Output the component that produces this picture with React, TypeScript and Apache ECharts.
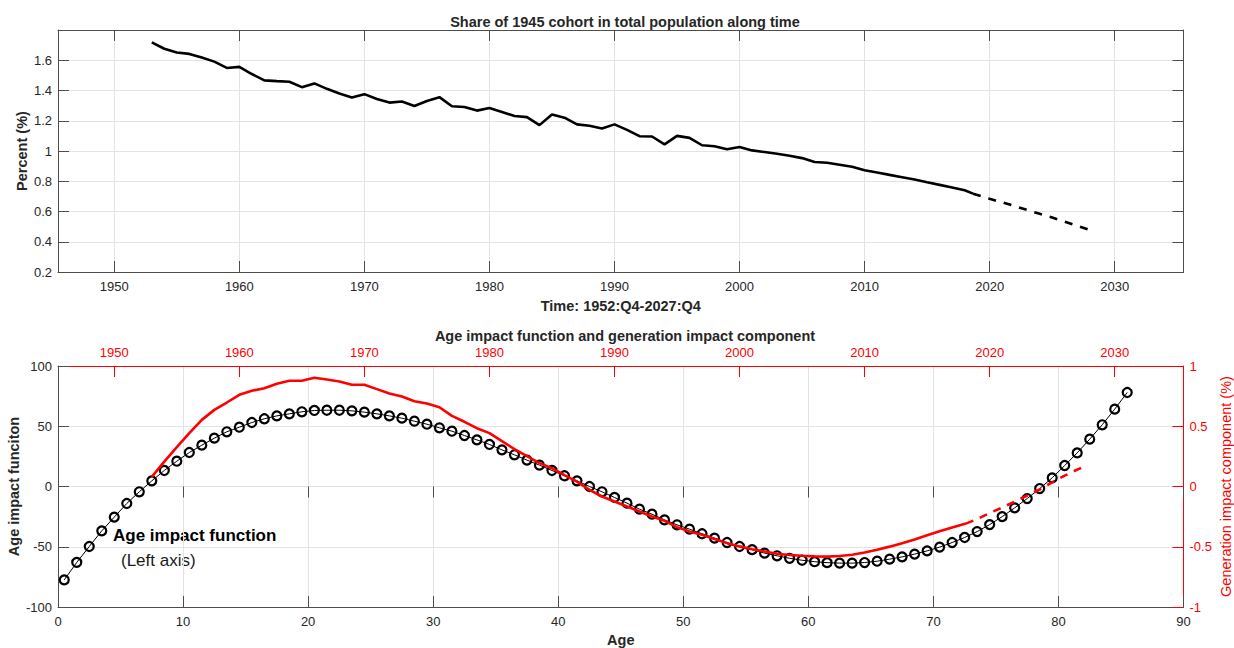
import React, { useEffect, useRef } from "react";
import * as echarts from "echarts";

// Share of the 1945 cohort in total population (%), observed part
const shareYears = [
  1953, 1954, 1955, 1956, 1957, 1958, 1959, 1960, 1961, 1962, 1963, 1964, 1965, 1966, 1967, 1968,
  1969, 1970, 1971, 1972, 1973, 1974, 1975, 1976, 1977, 1978, 1979, 1980, 1981, 1982, 1983, 1984,
  1985, 1986, 1987, 1988, 1989, 1990, 1991, 1992, 1993, 1994, 1995, 1996, 1997, 1998, 1999, 2000,
  2001, 2002, 2003, 2004, 2005, 2006, 2007, 2008, 2009, 2010, 2011, 2012, 2013, 2014, 2015, 2016,
  2017, 2018, 2018.67,
];
const shareValues = [
  1.718, 1.676, 1.651, 1.642, 1.618, 1.591, 1.549, 1.556, 1.509, 1.467, 1.462, 1.458, 1.422, 1.447, 1.411, 1.38,
  1.353, 1.376, 1.344, 1.32, 1.327, 1.298, 1.331, 1.356, 1.296, 1.291, 1.267, 1.284, 1.258, 1.231, 1.224, 1.171,
  1.242, 1.22, 1.176, 1.167, 1.149, 1.176, 1.14, 1.098, 1.096, 1.044, 1.1, 1.087, 1.038, 1.031, 1.011, 1.027,
  1.004, 0.993, 0.982, 0.969, 0.953, 0.927, 0.922, 0.909, 0.896, 0.873, 0.858, 0.842, 0.827, 0.811, 0.793, 0.776,
  0.758, 0.74, 0.718,
];

// Projected share (dashed)
const shareProjYears = [2018.67, 2020, 2021, 2022, 2023, 2024, 2025, 2026, 2027, 2028];
const shareProjValues = [0.718, 0.684, 0.66, 0.636, 0.61, 0.585, 0.56, 0.533, 0.506, 0.478];

// Age impact function (left axis)
const ages = [
  0.5, 1.5, 2.5, 3.5, 4.5, 5.5, 6.5, 7.5, 8.5, 9.5, 10.5, 11.5, 12.5, 13.5, 14.5, 15.5, 16.5, 17.5,
  18.5, 19.5, 20.5, 21.5, 22.5, 23.5, 24.5, 25.5, 26.5, 27.5, 28.5, 29.5, 30.5, 31.5, 32.5, 33.5, 34.5,
  35.5, 36.5, 37.5, 38.5, 39.5, 40.5, 41.5, 42.5, 43.5, 44.5, 45.5, 46.5, 47.5, 48.5, 49.5, 50.5, 51.5,
  52.5, 53.5, 54.5, 55.5, 56.5, 57.5, 58.5, 59.5, 60.5, 61.5, 62.5, 63.5, 64.5, 65.5, 66.5, 67.5, 68.5,
  69.5, 70.5, 71.5, 72.5, 73.5, 74.5, 75.5, 76.5, 77.5, 78.5, 79.5, 80.5, 81.5, 82.5, 83.5, 84.5, 85.5,
];
const ageImpact = [
  -77.5, -63, -49.8, -36.8, -25.4, -14.1, -4.4, 4.7, 13.3, 21, 28.2, 34.3, 40.1, 45.4, 49.2, 53.1, 56.2, 58.6,
  60.3, 62, 63.1, 63.3, 63.3, 62.8, 61.7, 60.3, 58.6, 56.7, 54.2, 51.7, 48.7, 45.9, 42.3, 38.7, 34.9,
  30.4, 26.3, 21.9, 17.7, 13.3, 8.9, 4.7, 0, -4.4, -9.1, -13.8, -18.8, -23, -27.7, -31.8, -35.4, -39.2,
  -42.8, -46.5, -49.8, -52.4, -55.3, -57.5, -59.6, -61.2, -62.4, -63.2, -63.6, -63.6, -63.1, -62, -60.3, -58.4, -56.1,
  -53.4, -50.3, -46.5, -42.3, -37.4, -31.6, -25, -17.7, -10, -1.7, 7.2, 17.4, 27.9, 39.3, 51.2, 64.2, 78,
];

// Generation impact component (%), right axis, plotted against calendar years
const genYears = [
  1953, 1954, 1955, 1956, 1957, 1958, 1959, 1960, 1961, 1962, 1963, 1964, 1965, 1966, 1967, 1968,
  1969, 1970, 1971, 1972, 1973, 1974, 1975, 1976, 1977, 1978, 1979, 1980, 1981, 1982, 1983, 1984,
  1985, 1986, 1987, 1988, 1989, 1990, 1991, 1992, 1993, 1994, 1995, 1996, 1997, 1998, 1999, 2000,
  2001, 2002, 2003, 2004, 2005, 2006, 2007, 2008, 2009, 2010, 2011, 2012, 2013, 2014, 2015, 2016,
  2017, 2018.1,
];
const genValues = [
  0.08, 0.207, 0.326, 0.443, 0.553, 0.636, 0.697, 0.761, 0.794, 0.816, 0.852, 0.877, 0.877, 0.902, 0.888, 0.871,
  0.844, 0.844, 0.808, 0.772, 0.747, 0.708, 0.689, 0.658, 0.586, 0.537, 0.484, 0.443, 0.376, 0.31, 0.252, 0.194,
  0.152, 0.094, 0.041, -0.028, -0.083, -0.125, -0.166, -0.207, -0.249, -0.285, -0.337, -0.373, -0.4, -0.436, -0.47, -0.497,
  -0.52, -0.539, -0.558, -0.569, -0.575, -0.58, -0.582, -0.577, -0.566, -0.548, -0.525, -0.499, -0.47, -0.44, -0.405, -0.372,
  -0.34, -0.308,
];
const genProjYears = [2018.1, 2019, 2020, 2021, 2022, 2023, 2024, 2025, 2026, 2027, 2027.5];
const genProjValues = [-0.308, -0.27, -0.22, -0.175, -0.125, -0.075, -0.025, 0.035, 0.09, 0.14, 0.162];

// Tick values
const yearTicks = [1950, 1960, 1970, 1980, 1990, 2000, 2010, 2020, 2030];
const shareTicks = [0.2, 0.4, 0.6, 0.8, 1, 1.2, 1.4, 1.6];

const FONT = "'Liberation Sans', Arial, Helvetica, sans-serif";
const INK = "#262626";
const AXIS = "#4d4d4d";
const GRID = "#e3e3e3";
const RED = "#ff0000";

const pairs = (xs: number[], ys: number[]) => xs.map((x, i) => [x, ys[i]]);
const plain = (v: number) => String(v);

export default function App() {
  const ref = useRef<HTMLDivElement>(null);

  useEffect(() => {
    if (!ref.current) return;
    const chart = echarts.init(ref.current, null, { renderer: "svg" });

    const tickLabel = { color: INK, fontFamily: FONT, fontSize: 13 };
    const nameStyle = { color: INK, fontFamily: FONT, fontSize: 14.5, fontWeight: "bold" as const };

    // rotated y-axis titles, reading bottom to top
    const yTitle = (text: string, x: number, y: number, fill: string, weight: string) => ({
      type: "text",
      x,
      y,
      rotation: Math.PI / 2,
      style: {
        text,
        fill,
        font: `${weight} 14.5px ${FONT}`,
        align: "center",
        verticalAlign: "middle",
      },
    });

    const option: any = {
      animation: false,
      backgroundColor: "#ffffff",
      title: [
        {
          text: "Share of 1945 cohort in total population along time",
          left: 620,
          textAlign: "center",
          top: 9.5,
          textStyle: nameStyle,
        },
        {
          text: "Age impact function and generation impact component",
          left: 620,
          textAlign: "center",
          top: 323.5,
          textStyle: nameStyle,
        },
      ],
      grid: [
        { left: 58, right: 50.5, top: 30, height: 242, containLabel: false, outerBoundsMode: "none" },
        { left: 58, right: 50.5, top: 366, height: 241, containLabel: false, outerBoundsMode: "none" },
      ],
      xAxis: [
        // top panel: calendar years (bottom)
        {
          type: "value",
          gridIndex: 0,
          position: "bottom",
          min: 1945.5,
          max: 2035.5,
          name: "Time: 1952:Q4-2027:Q4",
          nameLocation: "middle",
          nameGap: 26,
          nameTextStyle: nameStyle,
          axisLine: { show: true, onZero: false, lineStyle: { color: AXIS, width: 1 } },
          axisTick: { show: true, inside: true, length: 11, customValues: yearTicks, lineStyle: { color: AXIS } },
          axisLabel: { ...tickLabel, margin: 8, customValues: yearTicks, formatter: plain },
          splitLine: { show: true, lineStyle: { color: GRID, width: 1 } },
        },
        // top panel: mirrored ticks along the top border
        {
          type: "value",
          gridIndex: 0,
          position: "top",
          min: 1945.5,
          max: 2035.5,
          axisLine: { show: true, onZero: false, lineStyle: { color: AXIS, width: 1 } },
          axisTick: { show: true, inside: true, length: 11, customValues: yearTicks, lineStyle: { color: AXIS } },
          axisLabel: { show: false },
          splitLine: { show: false },
        },
        // bottom panel: age
        {
          type: "value",
          gridIndex: 1,
          position: "bottom",
          min: 0,
          max: 90,
          interval: 10,
          name: "Age",
          nameLocation: "middle",
          nameGap: 25,
          nameTextStyle: nameStyle,
          axisLine: { show: true, onZero: false, lineStyle: { color: AXIS, width: 1 } },
          axisTick: { show: true, inside: true, length: 11, lineStyle: { color: AXIS } },
          axisLabel: { ...tickLabel, margin: 8, showMinLabel: true, showMaxLabel: true },
          splitLine: { show: true, lineStyle: { color: GRID, width: 1 } },
        },
        // bottom panel: age ticks mirrored along the top border
        {
          type: "value",
          gridIndex: 1,
          position: "top",
          min: 0,
          max: 90,
          interval: 10,
          axisLine: { show: false },
          axisTick: { show: true, inside: true, length: 11, lineStyle: { color: AXIS } },
          axisLabel: { show: false },
          splitLine: { show: false },
        },
        // bottom panel: calendar years (top, red)
        {
          type: "value",
          gridIndex: 1,
          position: "top",
          min: 1945.5,
          max: 2035.5,
          axisLine: { show: true, onZero: false, lineStyle: { color: RED, width: 1 } },
          axisTick: { show: true, inside: true, length: 11, customValues: yearTicks, lineStyle: { color: RED } },
          axisLabel: { ...tickLabel, color: RED, margin: 7, customValues: yearTicks, formatter: plain },
          splitLine: { show: false },
        },
      ],
      yAxis: [
        // top panel: percent
        {
          type: "value",
          gridIndex: 0,
          position: "left",
          min: 0.2,
          max: 1.8,
          axisLine: { show: true, onZero: false, lineStyle: { color: AXIS, width: 1 } },
          axisTick: { show: true, inside: true, length: 11, customValues: shareTicks, lineStyle: { color: AXIS } },
          axisLabel: { ...tickLabel, margin: 6, customValues: shareTicks, formatter: plain },
          splitLine: { show: true, lineStyle: { color: GRID, width: 1 } },
        },
        {
          type: "value",
          gridIndex: 0,
          position: "right",
          min: 0.2,
          max: 1.8,
          axisLine: { show: true, onZero: false, lineStyle: { color: AXIS, width: 1 } },
          axisTick: { show: true, inside: true, length: 11, customValues: shareTicks, lineStyle: { color: AXIS } },
          axisLabel: { show: false },
          splitLine: { show: false },
        },
        // bottom panel: age impact function
        {
          type: "value",
          gridIndex: 1,
          position: "left",
          min: -100,
          max: 100,
          interval: 50,
          axisLine: { show: true, onZero: false, lineStyle: { color: AXIS, width: 1 } },
          axisTick: { show: true, inside: true, length: 11, lineStyle: { color: AXIS } },
          axisLabel: { ...tickLabel, margin: 6, showMinLabel: true, showMaxLabel: true },
          splitLine: { show: true, lineStyle: { color: GRID, width: 1 } },
        },
        // bottom panel: generation impact component
        {
          type: "value",
          gridIndex: 1,
          position: "right",
          min: -1,
          max: 1,
          interval: 0.5,
          axisLine: { show: true, onZero: false, lineStyle: { color: RED, width: 1 } },
          axisTick: { show: true, inside: true, length: 11, lineStyle: { color: RED } },
          axisLabel: { ...tickLabel, color: RED, margin: 6, showMinLabel: true, showMaxLabel: true },
          splitLine: { show: false },
        },
      ],
      series: [
        {
          type: "line",
          xAxisIndex: 0,
          yAxisIndex: 0,
          data: pairs(shareYears, shareValues),
          showSymbol: false,
          symbol: "none",
          lineStyle: { color: "#000", width: 2.6 },
        },
        {
          type: "line",
          xAxisIndex: 0,
          yAxisIndex: 0,
          data: pairs(shareProjYears, shareProjValues),
          showSymbol: false,
          symbol: "none",
          lineStyle: { color: "#000", width: 2.6, type: [8, 8] },
        },
        {
          type: "line",
          xAxisIndex: 2,
          yAxisIndex: 2,
          data: pairs(ages, ageImpact),
          symbol: "circle",
          symbolSize: 9,
          itemStyle: { color: "rgba(0,0,0,0)", borderColor: "#000", borderWidth: 2.2 },
          lineStyle: { color: "#000", width: 1 },
          z: 2,
        },
        {
          type: "line",
          xAxisIndex: 4,
          yAxisIndex: 3,
          data: pairs(genYears, genValues),
          showSymbol: false,
          symbol: "none",
          lineStyle: { color: RED, width: 2.6 },
          z: 3,
        },
        {
          type: "line",
          xAxisIndex: 4,
          yAxisIndex: 3,
          data: pairs(genProjYears, genProjValues),
          showSymbol: false,
          symbol: "none",
          lineStyle: { color: RED, width: 2.6, type: [8, 7] },
          z: 3,
        },
      ],
      graphic: [
        yTitle("Percent (%)", 22, 151, INK, "bold"),
        yTitle("Age impact funciton", 14, 486.5, INK, "bold"),
        yTitle("Generation impact component (%)", 1226, 486.5, RED, "normal"),
        {
          type: "text",
          left: 113,
          top: 527,
          style: { text: "Age impact function", fill: "#000", font: `bold 17px ${FONT}` },
        },
        {
          type: "text",
          left: 121,
          top: 552,
          style: { text: "(Left axis)", fill: "#1a1a1a", font: `17px ${FONT}` },
        },
      ],
    };

    chart.setOption(option);
    return () => chart.dispose();
  }, []);

  return (
    <div
      ref={ref}
      style={{ position: "absolute", left: 0, top: 0, width: 1234, height: 648, background: "#fff" }}
    />
  );
}
